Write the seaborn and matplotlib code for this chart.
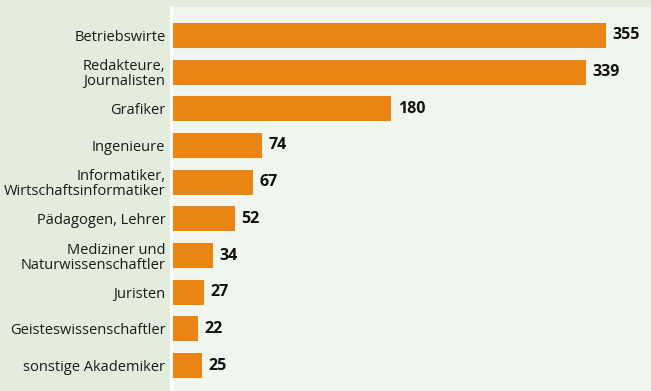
import matplotlib
matplotlib.use("Agg")
import matplotlib.pyplot as plt
import seaborn as sns
import pandas as pd

categories = ["Betriebswirte", "Redakteure,\nJournalisten", "Grafiker", "Ingenieure",
              "Informatiker,\nWirtschaftsinformatiker", "Pädagogen, Lehrer",
              "Mediziner und\nNaturwissenschaftler", "Juristen",
              "Geisteswissenschaftler", "sonstige Akademiker"]
values = [355, 339, 180, 74, 67, 52, 34, 27, 22, 25]

sns.set_theme(style="white")
plt.rcParams['font.family'] = ['Open Sans', 'DejaVu Sans']

df = pd.DataFrame({"cat": categories, "val": values})

fig = plt.figure(figsize=(6.51, 3.91), dpi=100)
fig.patch.set_facecolor("#e3ecdd")
ax = fig.add_axes([171/651, 0, (651-171)/651, 384/391])
ax.set_facecolor("#f0f5ee")

sns.barplot(data=df, x="val", y="cat", orient="h", color="#ea8412",
            saturation=1, width=0.68, linewidth=0, ax=ax)

for i, v in enumerate(values):
    ax.text(v + 5.5, i, str(v), va="center", ha="left", fontsize=11.5,
            fontweight="bold", color="#111111")

ax.set_xlim(0, 392)
ax.set_ylim(9.5 + 7/36.8, -0.5 - 10/36.8)
ax.set_xlabel("")
ax.set_ylabel("")
ax.set_xticks([])
ax.tick_params(axis="y", length=0, pad=4, labelsize=10.5, labelcolor="#1a1a1a")
for lbl in ax.get_yticklabels():
    lbl.set_linespacing(1.0)
for s in ["top", "right", "bottom"]:
    ax.spines[s].set_visible(False)
ax.spines["left"].set_color("white")
ax.spines["left"].set_linewidth(2)

fig.savefig("out.png", dpi=100, facecolor=fig.get_facecolor())
